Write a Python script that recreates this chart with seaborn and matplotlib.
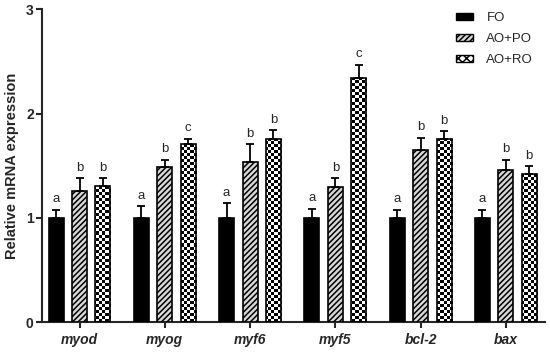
import numpy as np
import pandas as pd
import matplotlib
matplotlib.use("Agg")
import matplotlib.pyplot as plt
import seaborn as sns
from matplotlib.patches import Patch

genes = ["myod", "myog", "myf6", "myf5", "bcl-2", "bax"]
groups = ["FO", "AO+PO", "AO+RO"]
fo_vals = [1.00, 1.00, 1.00, 1.00, 1.00, 1.00]
fo_err = [0.08, 0.11, 0.14, 0.09, 0.08, 0.08]
po_vals = [1.26, 1.49, 1.54, 1.30, 1.65, 1.46]
po_err = [0.12, 0.07, 0.17, 0.08, 0.12, 0.10]
ro_vals = [1.31, 1.71, 1.76, 2.34, 1.76, 1.42]
ro_err = [0.07, 0.05, 0.08, 0.13, 0.07, 0.08]
fo_letters = ["a", "a", "a", "a", "a", "a"]
po_letters = ["b", "b", "b", "b", "b", "b"]
ro_letters = ["b", "c", "b", "c", "b", "b"]
yticks = [0, 1, 2, 3]

sns.set_theme(style="ticks")
plt.rcParams["font.family"] = ["Liberation Sans", "DejaVu Sans"]
plt.rcParams["hatch.linewidth"] = 1.1

df = pd.DataFrame({
    "gene": genes * 3,
    "group": [groups[0]] * 6 + [groups[1]] * 6 + [groups[2]] * 6,
    "value": fo_vals + po_vals + ro_vals,
})
errs = [fo_err, po_err, ro_err]
letters = [fo_letters, po_letters, ro_letters]

fig = plt.figure(figsize=(5.5, 3.52), dpi=100)
ax = fig.add_axes([0.0764, 0.0844, 0.9146, 0.8892])

sns.barplot(data=df, x="gene", y="value", hue="group", order=genes,
            hue_order=groups, palette=["black", "white", "white"],
            width=0.825, gap=0.36, edgecolor="black", linewidth=1.2,
            errorbar=None, ax=ax, legend=False, zorder=3)

ax.set_xlim(-0.44, 5.46)
ax.set_ylim(0, 3)

# checker image for AO+RO bars
ax_w_px, ax_h_px = 503, 313
cell = 3
nx, ny = ax_w_px // cell, ax_h_px // cell
checker = (np.add.outer(np.arange(ny), np.arange(nx)) % 2).astype(float)

bar_containers = list(ax.containers)
for gi, cont in enumerate(bar_containers):
    for bi, bar in enumerate(cont.patches):
        if gi == 1:
            bar.set_hatch("//////")
            bar.set_facecolor("#d8d8d8")
        if gi == 2:
            bar.set_facecolor("none")
            im = ax.imshow(checker, cmap="gray", vmin=0, vmax=1,
                           extent=(-0.44, 5.46, 0, 3), aspect="auto",
                           interpolation="nearest", zorder=2.5)
            im.set_clip_path(bar)
        cx = bar.get_x() + bar.get_width() / 2
        h = bar.get_height()
        e = errs[gi][bi]
        ax.errorbar(cx, h, yerr=[[0], [e]], fmt="none", ecolor="black",
                    elinewidth=1.3, capsize=3.2, capthick=1.3, zorder=4)
        ax.annotate(letters[gi][bi], (cx, h + e), xytext=(0, 3),
                    textcoords="offset points", ha="center", va="bottom",
                    fontsize=9.5)

ax.set_xlim(-0.44, 5.46)
ax.set_ylim(0, 3)
ax.set_yticks(yticks)
ax.set_yticklabels([str(t) for t in yticks], fontweight="bold", fontsize=10)
ax.set_xticks(range(len(genes)))
ax.set_xticklabels(genes, fontweight="bold", fontstyle="italic", fontsize=10)
ax.set_xlabel("")
ax.set_ylabel("Relative mRNA expression", fontweight="bold", fontsize=10.5, labelpad=5)
for s in ["top", "right"]:
    ax.spines[s].set_visible(False)
for s in ["left", "bottom"]:
    ax.spines[s].set_linewidth(1.5)
ax.tick_params(axis="both", width=1.5, length=4, pad=2)
ax.tick_params(axis="x", pad=4)

handles = [Patch(facecolor="black", edgecolor="black"),
           Patch(facecolor="#d8d8d8", edgecolor="black", hatch="//////"),
           Patch(facecolor="white", edgecolor="black", hatch="xxxx")]
leg = ax.legend(handles, groups, loc="upper right", bbox_to_anchor=(1.0, 1.03),
                frameon=False, fontsize=9.5, handlelength=1.3, handleheight=0.45,
                labelspacing=0.7, handletextpad=1.0)

fig.savefig("out.png", dpi=100)
